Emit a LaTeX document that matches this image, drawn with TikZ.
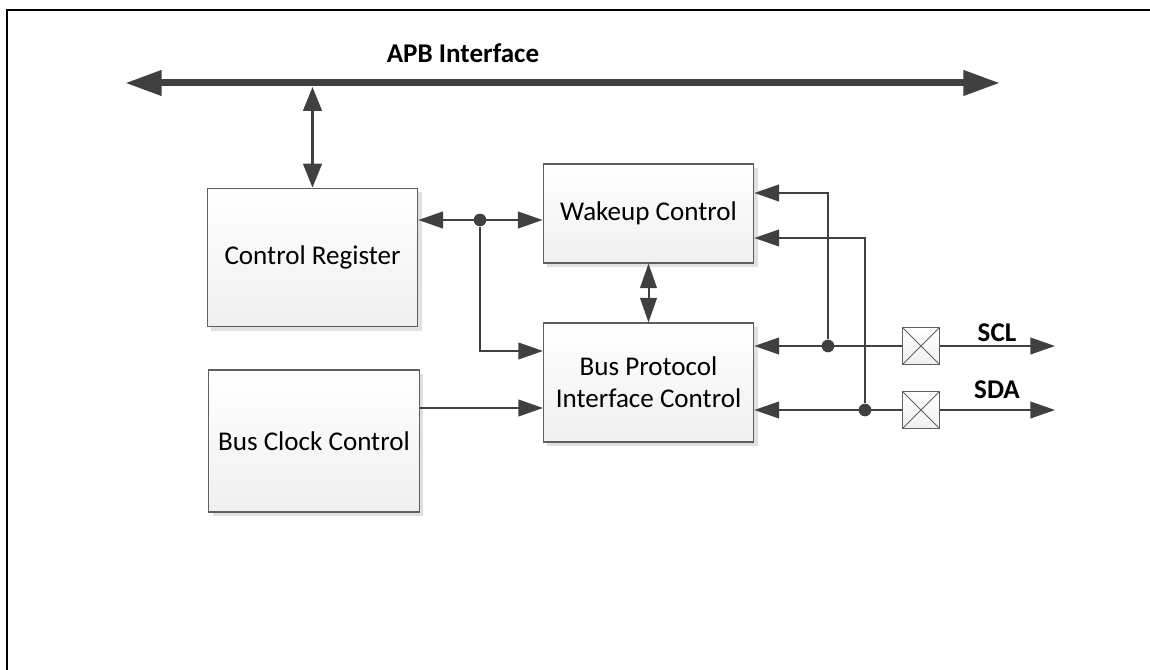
\documentclass[tikz,border=0pt]{standalone}
\usepackage{fontspec}
\setmainfont{Carlito}
\usepackage{tikz}
\usetikzlibrary{arrows.meta, positioning, shadows}
\definecolor{wire}{HTML}{404040}
\definecolor{edge}{HTML}{5F5F5F}

\begin{document}
\begin{tikzpicture}[x=0.75pt, y=-0.75pt, font=\fontsize{20.3}{24}\selectfont,
  block/.style={draw=edge, line width=0.8pt, top color=white, bottom color=gray!12,
    minimum width=158pt, align=center,
    drop shadow={shadow xshift=3pt, shadow yshift=-3pt, fill=black!12, opacity=1}},
  pad/.style={draw=edge, line width=0.7pt, top color=white, bottom color=gray!12,
    minimum size=28pt, inner sep=0pt,
    path picture={\draw[edge, line width=0.6pt]
      (path picture bounding box.south west) -- (path picture bounding box.north east)
      (path picture bounding box.north west) -- (path picture bounding box.south east);}},
  dot/.style={circle, fill=wire, inner sep=0pt, minimum size=9.5pt},
  arr/.style={wire, line width=1.5pt, -{Triangle[length=18.5pt, width=12.5pt]}},
  darr/.style={wire, line width=1.5pt, {Triangle[length=18.5pt, width=12.5pt]}-{Triangle[length=18.5pt, width=12.5pt]}},
  bus/.style={wire, line width=5.25pt, {Triangle[length=27.5pt, width=18pt]}-{Triangle[length=27.5pt, width=18pt]}},
  tap/.style={wire, line width=2pt, {Triangle[length=18pt, width=14pt]}-{Triangle[length=18pt, width=14pt]}},
  title/.style={font=\fontsize{20.3}{24}\selectfont\bfseries}]
  \useasboundingbox (0,0) rectangle (1150,670);

  % Rahmen
  \draw[line width=1.5pt] (7,670) -- (7,10) -- (1150,10);

  % APB Bus
  \coordinate (apbl) at (125,83);
  \coordinate (apbr) at (1000,83);
  \coordinate (apbtap) at (312.5,87);
  \draw[bus] (apbl) -- (apbr);
  \node[title] (apb) at (463,53) {APB Interface};

  % Bloecke
  \node[block, minimum height=104pt] (creg) at (312.5,257.5) {Control Register};
  \node[block, minimum height=106.5pt] (bclk) at (314,441) {Bus Clock Control};
  \node[block, minimum height=74.25pt] (wake) at (648.5,213.5) {Wakeup Control};
  \node[block, minimum height=89.25pt] (bpic) at (648.5,382.5) {Bus Protocol\\Interface Control};

  \draw[tap] (creg.north) -- (apbtap);

  % Control Register -> Wakeup / Bus Protocol
  \node[dot] (jcr) at (480,220) {};
  \coordinate (bpin1) at (543,351);
  \coordinate (bpin2) at (543,408);
  \draw[darr] (creg.east |- jcr) -- (wake.west |- jcr);
  \draw[arr] (jcr) |- (bpin1);
  \draw[arr] (bclk.east |- bpin2) -- (bpin2);
  \draw[darr] (wake.south) -- (bpic.north);

  % SCL / SDA
  \node[dot] (jscl) at (828,346) {};
  \node[dot] (jsda) at (865,410) {};
  \node[pad] (pscl) at (921,346) {};
  \node[pad] (psda) at (921,410) {};
  \coordinate (oscl) at (1055,346);
  \coordinate (osda) at (1055,410);
  \draw[arr] (pscl) -- (bpic.east |- pscl);
  \draw[arr] (psda) -- (bpic.east |- psda);
  \draw[arr] (jscl) |- (wake.east |- 0,193);
  \draw[arr] (jsda) |- (wake.east |- 0,238);
  \draw[arr] (pscl) -- (oscl);
  \draw[arr] (psda) -- (osda);
  \node[title] (lscl) at (997,333) {SCL};
  \node[title] (lsda) at (997,390) {SDA};
\end{tikzpicture}
\end{document}
